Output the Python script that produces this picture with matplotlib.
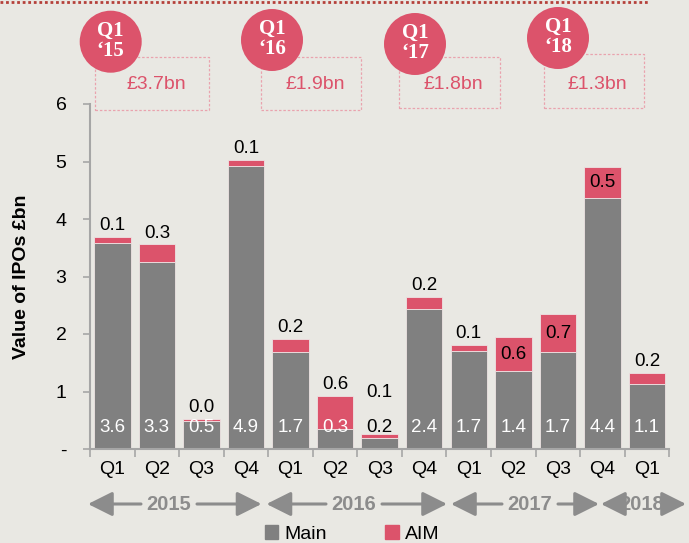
import matplotlib
matplotlib.use("Agg")
import matplotlib.pyplot as plt
from matplotlib.patches import Ellipse, Rectangle, FancyArrowPatch
from matplotlib.lines import Line2D
import numpy as np

# ---------------- data ----------------
quarters = ['Q1', 'Q2', 'Q3', 'Q4', 'Q1', 'Q2', 'Q3', 'Q4', 'Q1', 'Q2', 'Q3', 'Q4', 'Q1']
main = [3.59, 3.26, 0.49, 4.93, 1.68, 0.34, 0.20, 2.44, 1.70, 1.36, 1.68, 4.37, 1.13]
aim = [0.10, 0.30, 0.04, 0.10, 0.23, 0.59, 0.06, 0.20, 0.11, 0.58, 0.66, 0.54, 0.20]
years = ['2015', '2016', '2017', '2018']
q1_years = ['\u201815', '\u201816', '\u201817', '\u201818']
q1_totals = ['£3.7bn', '£1.9bn', '£1.8bn', '£1.3bn']
yticks = [0, 1, 2, 3, 4, 5, 6]
ytick_labels = ['-', '1', '2', '3', '4', '5', '6']

# ---------------- style ----------------
BG = '#E9E8E3'
GREY = '#808080'
PINK = '#DC536B'
AXC = '#A6A6A6'
plt.rcParams['font.family'] = ['Liberation Sans', 'DejaVu Sans']

W, H = 689, 543
fig = plt.figure(figsize=(W / 100, H / 100), dpi=100, facecolor=BG)
ax = fig.add_axes([90 / W, 1 - 449 / H, (669.3 - 90) / W, (449 - 104) / H])
ax.set_facecolor(BG)

x = np.arange(len(quarters))
ax.bar(x, main, width=0.82, color=GREY, edgecolor='#EDE3E3', linewidth=0.6, zorder=2)
ax.bar(x, aim, bottom=main, width=0.82, color=PINK, edgecolor='#EDE3E3', linewidth=0.6, zorder=2)

ax.set_xlim(-0.5, len(quarters) - 0.5)
ax.set_ylim(0, 6)

# main labels
for i, v in enumerate(main):
    c = 'black' if v < 0.3 else 'white'
    ax.text(i, 0.37, f'{v:.1f}', ha='center', va='center', color=c, fontsize=13.5, zorder=4)

# AIM labels
inside = {9, 10, 11}
for i, (m, a) in enumerate(zip(main, aim)):
    top = m + a
    if i in inside:
        ax.text(i, m + a / 2, f'{a:.1f}', ha='center', va='center', color='black', fontsize=13.5, zorder=4)
    else:
        off = 24 if main[i] < 0.3 else 2
        ax.annotate(f'{a:.1f}', (i, top), xytext=(0, off), textcoords='offset points',
                    ha='center', va='bottom', fontsize=13.5, color='black', zorder=4)

# axes styling
for s in ['top', 'right']:
    ax.spines[s].set_visible(False)
for s in ['left', 'bottom']:
    ax.spines[s].set_color(AXC)
    ax.spines[s].set_linewidth(1.5)
ax.set_yticks(yticks)
ax.set_yticklabels(ytick_labels, fontsize=14)
ax.tick_params(axis='y', length=5, width=1.2, color=AXC, pad=12)
ax.set_xticks(np.arange(-0.5, len(quarters), 1.0))
ax.set_xticklabels([])
ax.tick_params(axis='x', which='major', length=6, width=1.2, color=AXC)
ax.set_xticks(x, minor=True)
ax.set_xticklabels(quarters, minor=True, fontsize=14)
ax.tick_params(axis='x', which='minor', length=0, pad=9)

fig.text(22 / W, 1 - 277 / H, 'Value of IPOs £bn', rotation=90, ha='center', va='center',
         fontsize=14, fontweight='bold')

# year arrows
YC = '#8C8C8C'
year_spans = [(88, 261.5, 169), (266.5, 447, 354), (451, 599, 530), (601, 686, 642)]
yy = 1 - 504 / H
for (l, r, c), yr in zip(year_spans, years):
    fig.text(c / W, yy, yr, ha='center', va='center', fontsize=14.5, fontweight='bold', color=YC)
    half = 28 if yr != '2018' else 22
    for end, start in [(l, c - half), (r, c + half)]:
        fig.add_artist(FancyArrowPatch(
            (start / W, yy), (end / W, yy), transform=fig.transFigure,
            arrowstyle='-|>,head_length=15,head_width=7.5', color=YC, lw=2.2, mutation_scale=1,
            shrinkA=0, shrinkB=0))

# legend
handles = [Rectangle((0, 0), 1, 1, color=GREY), Rectangle((0, 0), 1, 1, color=PINK)]
fig.legend(handles, ['Main', 'AIM'], loc='center', bbox_to_anchor=(352 / W, 1 - 534 / H),
           ncol=2, frameon=False, fontsize=14, handlelength=0.7, handleheight=0.7,
           handletextpad=0.3, columnspacing=3.0, borderpad=0)

# top dotted line
fig.add_artist(Line2D([0, 648 / W], [1 - 1.5 / H, 1 - 1.5 / H], transform=fig.transFigure,
                      color='#B5403A', lw=2.0, linestyle=(0, (1, 1))))

# Q1 badges
boxes = [(95, 209, 57, 110), (260.5, 361, 57, 110), (399, 500, 57, 108), (543.5, 644, 54, 108)]
circles = [(110.7, 41.7), (272, 40), (415, 44), (558, 38)]
for (bl, br, bt, bb), (cx, cy), yl, tot in zip(boxes, circles, q1_years, q1_totals):
    fig.add_artist(Rectangle((bl / W, 1 - bb / H), (br - bl) / W, (bb - bt) / H,
                             transform=fig.transFigure, fill=False, edgecolor='#E9A3AE',
                             lw=0.9, linestyle=(0, (2, 1.5))))
    fig.text(((bl + br) / 2 + 4) / W, 1 - 85 / H, tot, ha='center', va='center',
             fontsize=14, color=PINK)
    fig.add_artist(Ellipse((cx / W, 1 - cy / H), 62 / W, 62 / H, transform=fig.transFigure,
                           facecolor=PINK, edgecolor='none'))
    fig.text(cx / W, 1 - (cy - 1) / H, 'Q1\n' + yl, ha='center', va='center', fontsize=15,
             fontweight='bold', color='white', family=['Liberation Serif', 'DejaVu Serif'],
             linespacing=1.0)

fig.savefig('out.png', dpi=100, facecolor=BG)
